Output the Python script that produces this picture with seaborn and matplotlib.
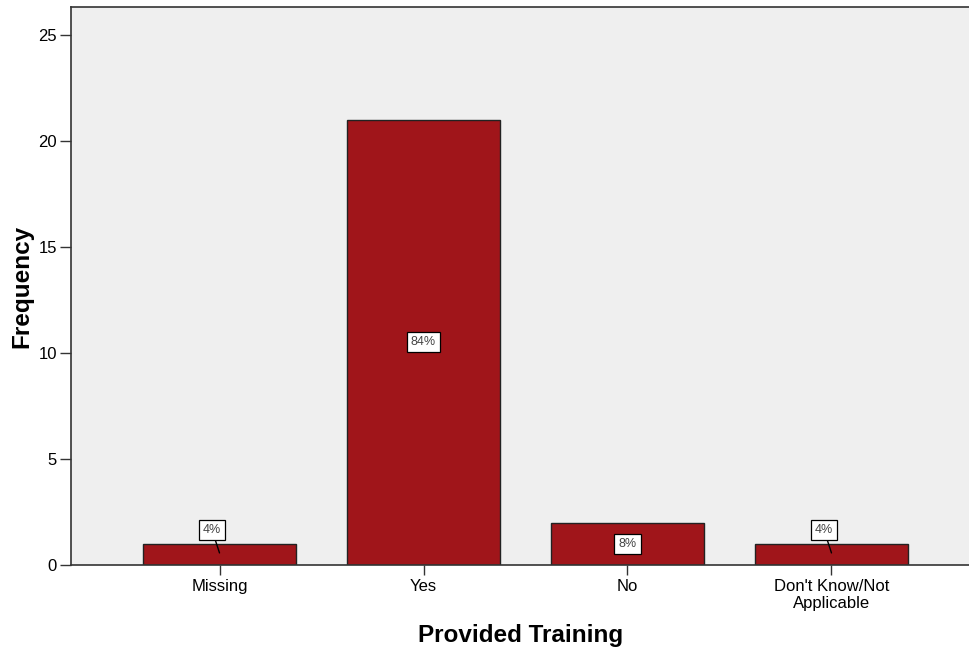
import matplotlib
matplotlib.use("Agg")
import matplotlib.pyplot as plt
import seaborn as sns

categories = ["Missing", "Yes", "No", "Don't Know/Not\nApplicable"]
counts = [1, 21, 2, 1]
percents = [4, 84, 8, 4]

sns.set_style("white")
plt.rcParams["font.family"] = ["Liberation Sans", "DejaVu Sans"]

fig = plt.figure(figsize=(9.7, 6.49), dpi=100)
ax = fig.add_axes([0.0732, 0.1294, 0.9268, 0.8598])
ax.set_facecolor("#EFEFEF")

sns.barplot(x=categories, y=counts, color="#A0151A", width=0.75,
            saturation=1, edgecolor="#222222", linewidth=1, ax=ax)

for i, (c, p) in enumerate(zip(counts, percents)):
    box = dict(boxstyle="square,pad=0.32", fc="white", ec="black", lw=0.9)
    if c < 1.5:
        # label sits above a short bar, with a leader line down into it
        ax.annotate(f"{p}%", xy=(i, c * 0.57), xytext=(i - 0.036, c + 0.63),
                    ha="center", va="center", fontsize=9, color="#444444",
                    bbox=box,
                    arrowprops=dict(arrowstyle="-", color="black", lw=1,
                                    shrinkA=0, shrinkB=0))
    else:
        ax.text(i, c / 2, f"{p}%", ha="center", va="center", fontsize=9,
                color="#444444", bbox=box)

ax.set_ylim(0, 26.32)
ax.set_xlim(-0.728, 3.679)
ax.set_yticks([0, 5, 10, 15, 20, 25])
ax.tick_params(axis="y", left=True, length=8, width=1, color="#333333",
               labelsize=12, labelcolor="black", pad=2)
ax.tick_params(axis="x", bottom=True, length=7, width=1, color="#333333",
               labelsize=12, labelcolor="black", pad=3)

for side in ["left", "top", "bottom", "right"]:
    ax.spines[side].set_color("#333333")
    ax.spines[side].set_linewidth(1.2)
ax.spines["right"].set_visible(False)

ax.set_xlabel("Provided Training", fontsize=17.5, fontweight="bold",
              labelpad=9, color="black")
ax.set_ylabel("Frequency", fontsize=17.5, fontweight="bold",
              labelpad=4, color="black")

fig.savefig("out.png", dpi=100)
